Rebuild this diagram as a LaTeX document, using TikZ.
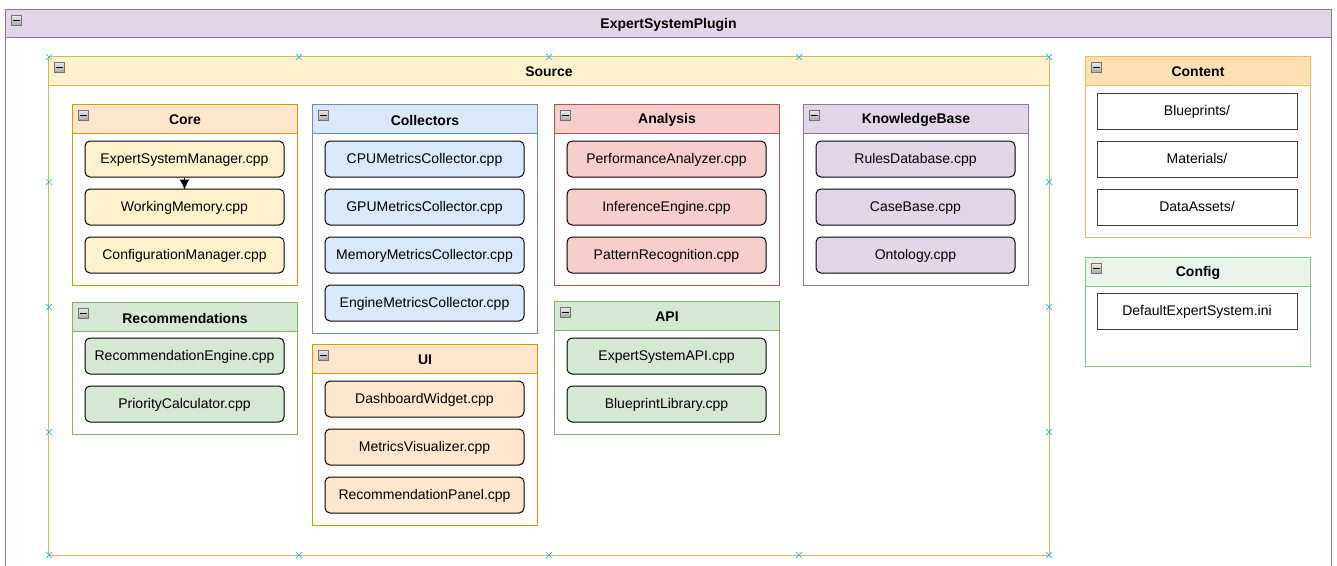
\documentclass[tikz,border=0pt]{standalone}
\usepackage{fontspec}
\setmainfont{Liberation Sans}
\usetikzlibrary{fit,arrows.meta}

% draw.io palette
\definecolor{purplefill}{HTML}{E1D5E7}\definecolor{purpleline}{HTML}{9673A6}
\definecolor{yellowfill}{HTML}{FFF2CC}\definecolor{yellowline}{HTML}{D6B656}
\definecolor{orangefill}{HTML}{FFE6CC}\definecolor{orangeline}{HTML}{D79B00}
\definecolor{bluefill}{HTML}{DAE8FC}\definecolor{blueline}{HTML}{6C8EBF}
\definecolor{redfill}{HTML}{F8CECC}\definecolor{redline}{HTML}{B85450}
\definecolor{greenfill}{HTML}{D5E8D4}\definecolor{greenline}{HTML}{82B366}
\definecolor{amberfill}{HTML}{FFE0B2}\definecolor{amberline}{HTML}{FFB74D}
\definecolor{mintfill}{HTML}{E8F5E9}\definecolor{mintline}{HTML}{81C784}
\definecolor{handle}{HTML}{29B6F2}

\tikzset{
  grpbox/.style={inner sep=0pt, fill=white, line width=1pt},
  grptitle/.style={font=\bfseries\fontsize{14}{16}\selectfont, inner sep=0pt},
  collapse/.style={draw=black!55, top color=black!8, bottom color=black!35,
    minimum size=10pt, inner sep=0pt, line width=0.8pt},
  item/.style={draw=black, line width=1pt, rounded corners=5pt, minimum width=199pt,
    minimum height=36pt, inner sep=0pt, text height=10pt, text depth=2pt,
    font=\fontsize{14}{16}\selectfont},
  folder/.style={draw=black!75, fill=white, line width=1pt, minimum width=200pt,
    minimum height=36pt, inner sep=0pt, text height=10pt, text depth=2pt,
    font=\fontsize{14}{16}\selectfont},
  flow/.style={-{Latex[length=10pt,width=10pt]}, line width=1pt, shorten >=-1pt},
  selmark/.style={handle, line width=0.7pt},
}

% container: name, x1, y1, x2, y2, header height, palette, title
\newcommand\grp[8]{%
  \path (#2,#3) coordinate (#1-nw) (#4,#5) coordinate (#1-se);
  \node[grpbox, fit=(#1-nw)(#1-se)] (#1) {};
  \fill[#7fill] (#2,#3) rectangle (#4,#3+#6);
  \draw[#7line, line width=1pt] (#2,#3+#6) -- (#4,#3+#6);
  \draw[#7line, line width=1pt] (#1.north west) rectangle (#1.south east);
  \node[grptitle] (#1-title) at ({(#2+#4)/2},#3+#6/2+1) {#8};
  \node[collapse] (#1-icon) at (#2+10.5,#3+10.5) {};
  \draw[line width=1.2pt] (#1-icon.center) ++(-3.5,0) -- ++(7,0);
}
\newcommand\selx[2]{\draw[selmark] (#1-3,#2-3) -- (#1+3,#2+3) (#1-3,#2+3) -- (#1+3,#2-3);}

\begin{document}
\begin{tikzpicture}[x=1pt,y=-1pt]
\clip (0,0) rectangle (1337,565);
\fill[white] (0,0) rectangle (1337,565);

% outer plugin frame
\grp{plugin}{6}{10}{1331}{580}{27}{purple}{ExpertSystemPlugin}

% Source tree
\grp{source}{49}{57}{1049}{555}{28}{yellow}{Source}

\grp{core}{73}{105}{297}{285}{28}{orange}{Core}
\node[item, fill=yellowfill] (esm) at (184.5,159) {ExpertSystemManager.cpp};
\node[item, fill=yellowfill] (wm)  at (184.5,207) {WorkingMemory.cpp};
\node[item, fill=yellowfill] (cfm) at (184.5,255) {ConfigurationManager.cpp};
\draw[flow] (esm) -- (wm);

\grp{recs}{73}{303}{297}{434}{28}{green}{Recommendations}
\node[item, fill=greenfill] (reng) at (184.5,356) {RecommendationEngine.cpp};
\node[item, fill=greenfill] (prio) at (184.5,404) {PriorityCalculator.cpp};

\grp{coll}{313}{105}{537}{333}{28}{blue}{Collectors}
\node[item, fill=bluefill] (cpu) at (424.5,159) {CPUMetricsCollector.cpp};
\node[item, fill=bluefill] (gpu) at (424.5,207) {GPUMetricsCollector.cpp};
\node[item, fill=bluefill] (mem) at (424.5,255) {MemoryMetricsCollector.cpp};
\node[item, fill=bluefill] (eng) at (424.5,303) {EngineMetricsCollector.cpp};

\grp{ui}{313}{345}{537}{525}{28}{orange}{UI}
\node[item, fill=orangefill] (dash) at (424.5,399) {DashboardWidget.cpp};
\node[item, fill=orangefill] (viz)  at (424.5,447) {MetricsVisualizer.cpp};
\node[item, fill=orangefill] (rpan) at (424.5,495) {RecommendationPanel.cpp};

\grp{analysis}{555}{105}{779}{285}{28}{red}{Analysis}
\node[item, fill=redfill] (perf) at (666.5,159) {PerformanceAnalyzer.cpp};
\node[item, fill=redfill] (inf)  at (666.5,207) {InferenceEngine.cpp};
\node[item, fill=redfill] (pat)  at (666.5,255) {PatternRecognition.cpp};

\grp{api}{555}{302}{779}{434}{28}{green}{API}
\node[item, fill=greenfill] (esapi) at (666.5,356) {ExpertSystemAPI.cpp};
\node[item, fill=greenfill] (bpl)   at (666.5,404) {BlueprintLibrary.cpp};

\grp{kb}{804}{105}{1028}{285}{28}{purple}{KnowledgeBase}
\node[item, fill=purplefill] (rules) at (915.5,159) {RulesDatabase.cpp};
\node[item, fill=purplefill] (cases) at (915.5,207) {CaseBase.cpp};
\node[item, fill=purplefill] (onto)  at (915.5,255) {Ontology.cpp};

% Content and Config folders
\grp{content}{1086}{57}{1310}{237}{28}{amber}{Content}
\node[folder] (bp)  at (1197,111) {Blueprints/};
\node[folder] (mat) at (1197,159) {Materials/};
\node[folder] (da)  at (1197,207) {DataAssets/};

\grp{config}{1086}{258}{1310}{366}{28}{mint}{Config}
\node[folder] (ini) at (1197,311) {DefaultExpertSystem.ini};

% selection handles around Source
\foreach \hx in {49,299,549,799,1049}{\selx{\hx}{57}\selx{\hx}{555}}
\foreach \hy in {182,307,432}{\selx{49}{\hy}\selx{1049}{\hy}}
\end{tikzpicture}
\end{document}
